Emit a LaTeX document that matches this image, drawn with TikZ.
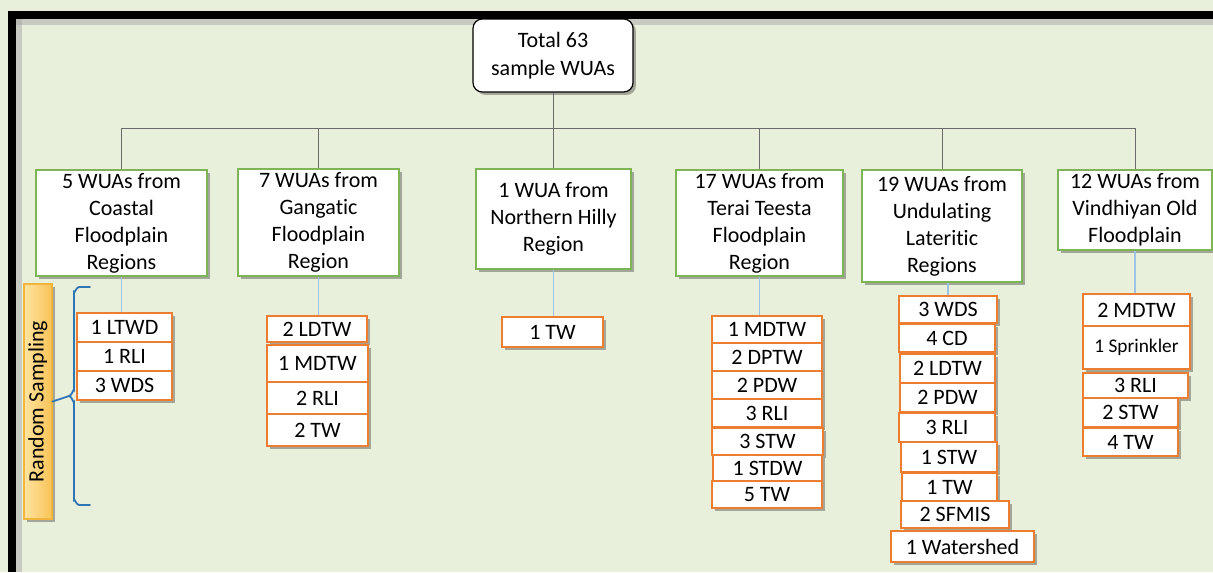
\documentclass[tikz,border=0pt]{standalone}
\usepackage{fontspec}
\setmainfont{Carlito}[RawFeature=-liga]
\usetikzlibrary{shadows}
\definecolor{bgc}{HTML}{E8EFDB}
\definecolor{grn}{HTML}{7DB556}
\definecolor{org}{HTML}{ED7D31}
\definecolor{lblue}{HTML}{9DC3E6}
\definecolor{brc}{HTML}{2E75B6}
\definecolor{conc}{HTML}{6B6B6B}
\definecolor{rsA}{HTML}{FFE3A0}
\definecolor{rsB}{HTML}{F8C457}
\definecolor{rsE}{HTML}{F2B53B}
\newcommand\pbox[7]{%
  \node[#1, minimum width={(#5-#3)*0.75pt}, minimum height={(#6-#4)*0.75pt}] (#2) at ({(#3+#5)/2},{(#4+#6)/2}) {#7};}
\tikzset{
  shd/.style={drop shadow={shadow xshift=2.2pt, shadow yshift=-2.2pt, fill=black, opacity=0.3}},
  rootbox/.style={draw=black, line width=0.9pt, rounded corners=7pt, fill=white, shd, inner sep=0pt, align=center, font=\fontsize{16.5}{21}\selectfont},
  regbox/.style={draw=grn, line width=1.2pt, fill=white, shd, inner sep=0pt, align=center, font=\fontsize{16.5}{20.25}\selectfont},
  leaf/.style={draw=org, line width=1.2pt, fill=white, shd, inner sep=0pt, align=center, font=\fontsize{16.5}{20}\selectfont},
  smallleaf/.style={leaf, font=\fontsize{14.5}{18}\selectfont},
  conn/.style={draw=conc, line width=0.6pt},
  bconn/.style={draw=lblue, line width=0.8pt},
  bracepath/.style={draw=brc, line width=1.3pt, line cap=round},
  rsbox/.style={draw=rsE, line width=0.8pt, top color=rsA, bottom color=rsB, shading angle=90, shd, inner sep=0pt, font=\fontsize{16.5}{20}\selectfont}
}
\begin{document}
\begin{tikzpicture}[x=0.75pt, y=-0.75pt]
\useasboundingbox (0,0) rectangle (1213,572);
\fill[bgc] (0,0) rectangle (1213,572);
% frame
\fill[black!35, opacity=0.5] (16,19) rectangle (1213,25);
\fill[black!35, opacity=0.5] (16,19) rectangle (22,572);
\fill[black] (8,11) rectangle (1213,19);
\fill[black] (8,11) rectangle (16,572);

% root
\pbox{rootbox}{root}{473}{19}{633}{92}{Total 63\\sample WUAs}

% region boxes
\pbox{regbox}{b1}{36}{170}{207}{276}{5 WUAs from\\Coastal\\Floodplain\\Regions}
\pbox{regbox}{b2}{238}{169}{399}{276}{7 WUAs from\\Gangatic\\Floodplain\\Region}
\pbox{regbox}{b3}{476}{169}{631}{269}{1 WUA from\\Northern Hilly\\Region}
\pbox{regbox}{b4}{676}{170}{843}{276}{17 WUAs from\\Terai Teesta\\Floodplain\\Region}
\pbox{regbox}{b5}{862}{170}{1022}{282}{19 WUAs from\\Undulating\\Lateritic\\Regions}
\pbox{regbox}{b6}{1058}{170}{1212}{250}{12 WUAs from\\Vindhiyan Old\\Floodplain}

% tree connectors
\coordinate (bus) at (553,128);
\draw[conn] (root.south) -- (root.south |- bus);
\draw[conn] (b1.north) -- (b1.north |- bus) -- (b6.north |- bus) -- (b6.north);
\draw[conn] (b2.north) -- (b2.north |- bus);
\draw[conn] (b3.north) -- (b3.north |- bus);
\draw[conn] (b4.north) -- (b4.north |- bus);
\draw[conn] (b5.north) -- (b5.north |- bus);

% column 1
\pbox{leaf}{l1a}{77}{313}{172}{342}{1 LTWD}
\pbox{leaf}{l1b}{77}{342}{172}{371}{1 RLI}
\pbox{leaf}{l1c}{77}{371}{172}{400}{3 WDS}
% column 2
\pbox{leaf}{l2a}{267}{316}{367}{342}{2 LDTW}
\pbox{leaf}{l2b}{267}{345}{368}{382}{1 MDTW}
\pbox{leaf}{l2c}{267}{382}{368}{414}{2 RLI}
\pbox{leaf}{l2d}{267}{414}{368}{446}{2 TW}
% column 3
\pbox{leaf}{l3a}{502}{317}{603}{347}{1 TW}
% column 4
\pbox{leaf}{l4a}{712}{316}{822}{343}{1 MDTW}
\pbox{leaf}{l4b}{712}{343}{822}{371}{2 DPTW}
\pbox{leaf}{l4c}{712}{371}{822}{399}{2 PDW}
\pbox{leaf}{l4d}{712}{399}{822}{427}{3 RLI}
\pbox{leaf}{l4e}{712}{428}{823}{455}{3 STW}
\pbox{leaf}{l4f}{713}{455}{822}{481}{1 STDW}
\pbox{leaf}{l4g}{712}{481}{822}{508}{5 TW}
% column 5
\pbox{leaf}{l5a}{899}{296}{997}{323}{3 WDS}
\pbox{leaf}{l5b}{899}{324}{995}{352}{4 CD}
\pbox{leaf}{l5c}{900}{354}{995}{383}{2 LDTW}
\pbox{leaf}{l5d}{900}{383}{995}{412}{2 PDW}
\pbox{leaf}{l5e}{899}{413}{995}{442}{3 RLI}
\pbox{leaf}{l5f}{901}{442}{997}{472}{1 STW}
\pbox{leaf}{l5g}{902}{473}{997}{501}{1 TW}
\pbox{leaf}{l5h}{901}{501}{1009}{528}{2 SFMIS}
\pbox{leaf}{l5i}{891}{531}{1034}{562}{1 Watershed}
% column 6
\pbox{leaf}{l6a}{1083}{294}{1190}{326}{2 MDTW}
\pbox{smallleaf}{l6b}{1083}{326}{1190}{369}{1 Sprinkler}
\pbox{leaf}{l6c}{1083}{373}{1188}{398}{3 RLI}
\pbox{leaf}{l6d}{1083}{398}{1178}{427}{2 STW}
\pbox{leaf}{l6e}{1083}{428}{1178}{456}{4 TW}

% blue connectors
\draw[bconn] (b1.south) -- (b1.south |- l1a.north);
\draw[bconn] (b2.south) -- (b2.south |- l2a.north);
\draw[bconn] (b3.south) -- (b3.south |- l3a.north);
\draw[bconn] (b4.south) -- (b4.south |- l4a.north);
\draw[bconn] (b5.south) ++(6,0) coordinate (b5s) -- (b5s |- l5a.north);
\draw[bconn] (b6.south) -- (b6.south |- l6a.north);

% random sampling
\pbox{rsbox}{rs}{24}{284}{52}{519}{\rotatebox{90}{Random Sampling}}
\coordinate (tip) at (69,396);
\draw[bracepath] (90,287) -- (79,287) to[out=180,in=-90] (74,292) -- (74,390) to[out=90,in=0] (tip) to[out=0,in=-90] (74,402) -- (74,500) to[out=90,in=180] (79,505) -- (90,505);
\draw[bracepath] (rs.east) -- (tip);
\end{tikzpicture}
\end{document}
